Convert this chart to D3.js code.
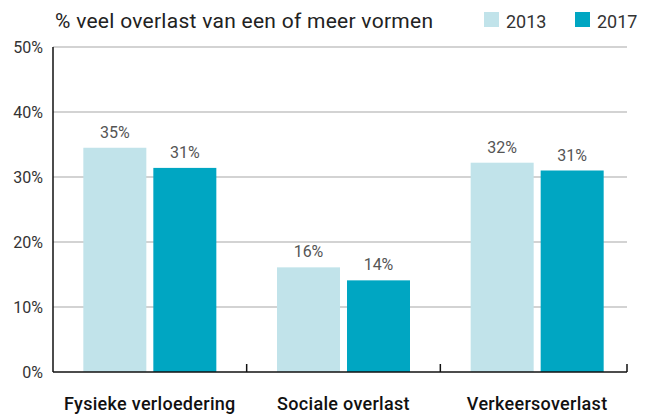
<!DOCTYPE html>
<html>
<head>
<meta charset="utf-8">
<script src="https://cdn.jsdelivr.net/npm/d3@7"></script>
<style>
  html, body { margin: 0; padding: 0; background: #fff; }
  svg { display: block; font-family: Roboto, "Noto Sans", sans-serif; }
</style>
</head>
<body>
<svg id="chart" width="648" height="415"></svg>
<script>
const title = "% veel overlast van een of meer vormen";
const categories = ["Fysieke verloedering", "Sociale overlast", "Verkeersoverlast"];
const years = ["2013", "2017"];
const values2013 = [34.5, 16.1, 32.2];
const values2017 = [31.4, 14.1, 31.0];
const labels2013 = ["35%", "16%", "32%"];
const labels2017 = ["31%", "14%", "31%"];
const yTicks = [0, 10, 20, 30, 40, 50];
const colors = ["#c1e3ea", "#00a6c2"];

(function () {
const svg = d3.select("#chart");
const mLeft = 53, mRight = 634, axisEnd = 627, mTop = 47, mBottom = 372;

const x0 = d3.scaleBand().domain(categories).range([mLeft, mRight]).padding(0);
const groupW = 133;
const x1 = d3.scaleBand().domain(years)
  .range([(x0.bandwidth() - groupW) / 2, (x0.bandwidth() + groupW) / 2])
  .paddingInner(0.1);
const y = d3.scaleLinear().domain([0, 50]).range([mBottom, mTop]);

// gridlines
svg.append("g").selectAll("line").data(yTicks.filter(d => d > 0)).join("line")
  .attr("x1", mLeft).attr("x2", axisEnd)
  .attr("y1", d => y(d)).attr("y2", d => y(d))
  .attr("stroke", "#c4c4c4").attr("stroke-width", 1.3);

// y tick labels
svg.append("g").selectAll("text").data(yTicks).join("text")
  .attr("x", 43).attr("y", d => y(d)).attr("dy", "0.35em")
  .attr("text-anchor", "end").attr("font-size", 16).attr("fill", "#333")
  .text(d => d + "%");

// bars
const data = categories.map((c, i) => ({
  cat: c,
  items: [
    { year: years[0], v: values2013[i], label: labels2013[i] },
    { year: years[1], v: values2017[i], label: labels2017[i] }
  ]
}));

const groups = svg.append("g").selectAll("g").data(data).join("g")
  .attr("transform", d => `translate(${x0(d.cat)},0)`);

groups.selectAll("rect").data(d => d.items).join("rect")
  .attr("x", d => x1(d.year)).attr("width", x1.bandwidth())
  .attr("y", d => y(d.v)).attr("height", d => y(0) - y(d.v))
  .attr("fill", (d, i) => colors[i]);

groups.selectAll("text").data(d => d.items).join("text")
  .attr("x", d => x1(d.year) + x1.bandwidth() / 2)
  .attr("y", d => y(d.v) - 10)
  .attr("text-anchor", "middle").attr("font-size", 16).attr("fill", "#555")
  .text(d => d.label);

// axes lines
svg.append("line").attr("x1", mLeft).attr("x2", mLeft).attr("y1", mTop).attr("y2", mBottom)
  .attr("stroke", "#111").attr("stroke-width", 1.5);
svg.append("line").attr("x1", mLeft).attr("x2", axisEnd).attr("y1", mBottom).attr("y2", mBottom)
  .attr("stroke", "#111").attr("stroke-width", 1.5);
const tickXs = categories.slice(1).map(c => x0(c)).concat([axisEnd]);
svg.append("g").selectAll("line").data(tickXs).join("line")
  .attr("x1", d => d).attr("x2", d => d).attr("y1", mBottom).attr("y2", mBottom - 8)
  .attr("stroke", "#111").attr("stroke-width", 1.5);

// category labels
svg.append("g").selectAll("text").data(categories).join("text")
  .attr("x", d => x0(d) + x0.bandwidth() / 2).attr("y", 410)
  .attr("text-anchor", "middle").attr("font-size", 18).attr("font-weight", 500)
  .attr("letter-spacing", 0.3)
  .attr("fill", "#111").text(d => d);

// title
svg.append("text").attr("x", 55).attr("y", 28).attr("font-size", 21).attr("fill", "#222")
  .attr("textLength", 378).attr("lengthAdjust", "spacing")
  .text(title);

// legend
const legendX = [484, 575];
const lg = svg.append("g").selectAll("g").data(years).join("g")
  .attr("transform", (d, i) => `translate(${legendX[i]},0)`);
lg.append("rect").attr("x", 0).attr("y", 12).attr("width", 15).attr("height", 15)
  .attr("fill", (d, i) => colors[i]);
lg.append("text").attr("x", 22).attr("y", 28).attr("font-size", 18).attr("fill", "#333")
  .text(d => d);
})();
</script>
</body>
</html>
